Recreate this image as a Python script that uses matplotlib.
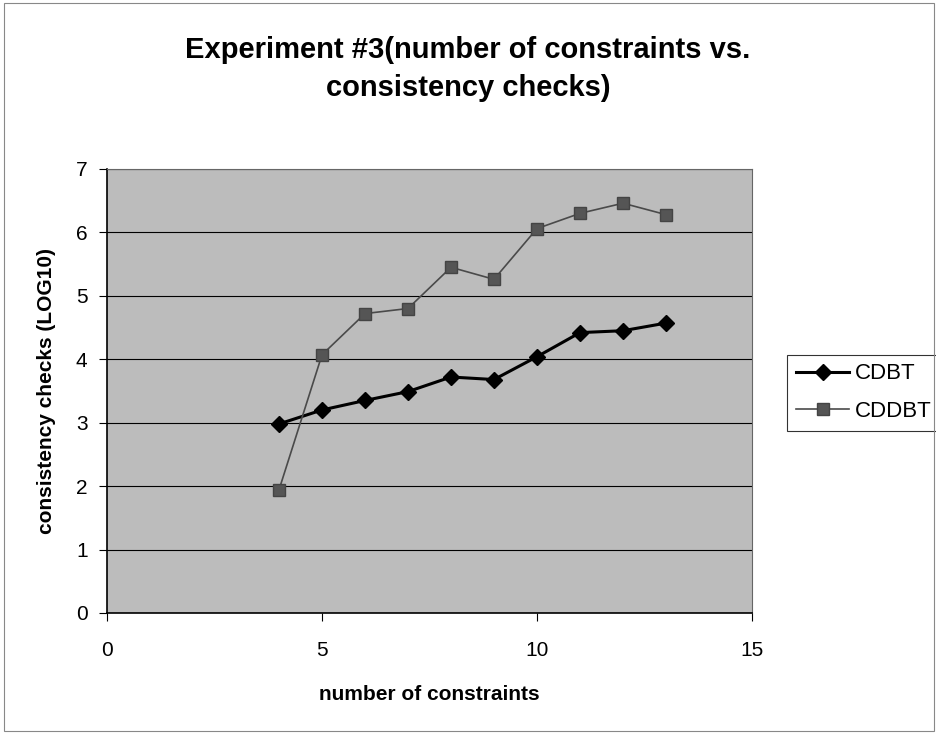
import matplotlib.pyplot as plt
from matplotlib.patches import Rectangle

# number of constraints
constraints = [4, 5, 6, 7, 8, 9, 10, 11, 12, 13]
# consistency checks, log10
cdbt = [2.98, 3.20, 3.35, 3.49, 3.72, 3.68, 4.04, 4.42, 4.45, 4.57]
cddbt = [1.94, 4.07, 4.72, 4.80, 5.45, 5.26, 6.06, 6.30, 6.46, 6.28]

x_ticks = [0, 5, 10, 15]
y_ticks = [0, 1, 2, 3, 4, 5, 6, 7]

plt.rcParams['font.family'] = ['Liberation Sans', 'DejaVu Sans']

fig = plt.figure(figsize=(9.36, 7.34), dpi=100)
ax = fig.add_axes([0.1143, 0.1649, 0.6891, 0.6049])
ax.set_facecolor('#bcbcbc')

ax.plot(constraints, cdbt, color='black', lw=2.2, marker='D', ms=8,
        label='CDBT', zorder=3)
ax.plot(constraints, cddbt, color='#4a4a4a', lw=1.2, marker='s', ms=8,
        mfc='#555555', mec='#444444', label='CDDBT', zorder=3)

ax.set_xlim(0, 15)
ax.set_ylim(0, 7)
ax.set_xticks(x_ticks)
ax.set_yticks(y_ticks)
ax.yaxis.grid(True, color='black', lw=0.8)
ax.set_axisbelow(True)
ax.tick_params(direction='out', length=6, labelsize=15, pad=8)
ax.tick_params(axis='x', pad=14)
for s in ['top', 'right']:
    ax.spines[s].set_color('#666666')
for s in ['left', 'bottom']:
    ax.spines[s].set_color('black')
    ax.spines[s].set_linewidth(1.2)

ax.set_xlabel('number of constraints', fontsize=15, fontweight='bold', labelpad=18)
ax.set_ylabel('consistency checks (LOG10)', fontsize=15, fontweight='bold', labelpad=14)
fig.text(0.5, 0.906, 'Experiment #3(number of constraints vs.\nconsistency checks)',
         ha='center', va='center', fontsize=21, fontweight='bold', linespacing=1.45)

leg = ax.legend(loc='lower left', bbox_to_anchor=(0.841, 0.4128),
                bbox_transform=fig.transFigure, fontsize=16, frameon=True,
                fancybox=False, edgecolor='black', handlelength=2.4,
                handletextpad=0.25, borderpad=0.4, borderaxespad=0,
                labelspacing=0.75)
leg.get_frame().set_linewidth(0.8)

fig.patches.append(Rectangle((0.004, 0.004), 0.994, 0.992, transform=fig.transFigure,
                             fill=False, edgecolor='#888888', lw=0.8))

fig.savefig('out.png', dpi=100)
